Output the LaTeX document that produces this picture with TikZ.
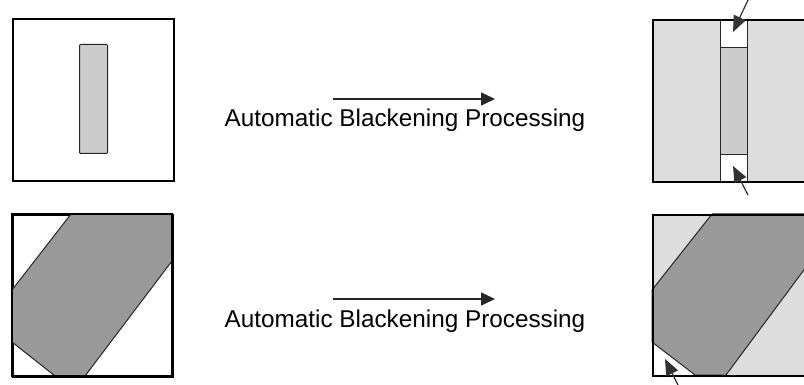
\documentclass[tikz,border=0pt]{standalone}
\usepackage{fontspec}
\setmainfont{Liberation Sans}
\usetikzlibrary{arrows.meta}
\definecolor{lightg}{HTML}{DDDDDD}
\definecolor{midg}{HTML}{CCCCCC}
\definecolor{darkg}{HTML}{999999}
\begin{document}
\begin{tikzpicture}[x=1pt,y=-1pt,
  frame/.style={draw=black,line width=1.6pt},
  edge/.style={draw=black!85,line width=1pt},
  bigarrow/.style={-{Triangle[length=14pt,width=13pt]},line width=1.5pt,black!85},
  smallarrow/.style={-{Triangle[length=16pt,width=13pt]},line width=1.2pt,black!80},
  label/.style={font=\fontsize{24.3}{28}\selectfont,anchor=base,inner sep=0pt}]
\useasboundingbox (0,0) rectangle (804,385);
\clip (0,0) rectangle (804,385);
% top-left
\node[frame,minimum width=161pt,minimum height=162pt,inner sep=0pt,anchor=north west] (tl) at (12,18) {};
\node[edge,fill=midg,rounded corners=1pt,minimum width=28pt,minimum height=109pt,inner sep=0pt,anchor=north west] (tlr) at (79,44) {};
% bottom-left
\node[frame,minimum width=160pt,minimum height=162pt,inner sep=0pt,anchor=north west] (bl) at (12,214) {};
\path[edge,fill=darkg,line join=round] (71,214) -- (172,214) -- (172,261) -- (85,376) -- (55,376) -- (12,342) -- (12,290) -- cycle;
\draw[frame] (12,214) rectangle (172,376);
% top-right
\path[fill=lightg] (652,19) rectangle (815,181);
\path[fill=white] (720,19) rectangle (747,181);
\node[edge,fill=midg,minimum width=27pt,minimum height=107pt,inner sep=0pt,anchor=north west] (trr) at (720,47) {};
\draw[edge] (720,19) -- (720,181) (747,19) -- (747,181);
\node[frame,minimum width=163pt,minimum height=162pt,inner sep=0pt,anchor=north west] (tr) at (652,19) {};
% bottom-right
\path[fill=lightg] (652,214) rectangle (815,375);
\path[fill=white] (652,342) -- (695,375) -- (652,375) -- cycle;
\path[edge,fill=darkg,line join=round] (712,214) -- (815,214) -- (815,255) -- (726,375) -- (695,375) -- (652,342) -- (652,290) -- cycle;
\node[frame,minimum width=163pt,minimum height=161pt,inner sep=0pt,anchor=north west] (br) at (652,214) {};
% labels and arrows
\node[label] (t1) at (405,127) {Automatic Blackening Processing};
\node[label] (t2) at (405,327) {Automatic Blackening Processing};
\coordinate (a1s) at (333,99); \coordinate (a1e) at (495,99);
\coordinate (a2s) at (333,299); \coordinate (a2e) at (495,299);
\draw[bigarrow] (a1s) -- (a1e);
\draw[bigarrow] (a2s) -- (a2e);
\coordinate (p1s) at (748,0); \coordinate (p1e) at (733,32);
\coordinate (p2s) at (748,195); \coordinate (p2e) at (733,166);
\coordinate (p3s) at (678,385); \coordinate (p3e) at (665,359);
\draw[smallarrow] (p1s) -- (p1e);
\draw[smallarrow] (p2s) -- (p2e);
\draw[smallarrow] (p3s) -- (p3e);
\end{tikzpicture}
\end{document}
